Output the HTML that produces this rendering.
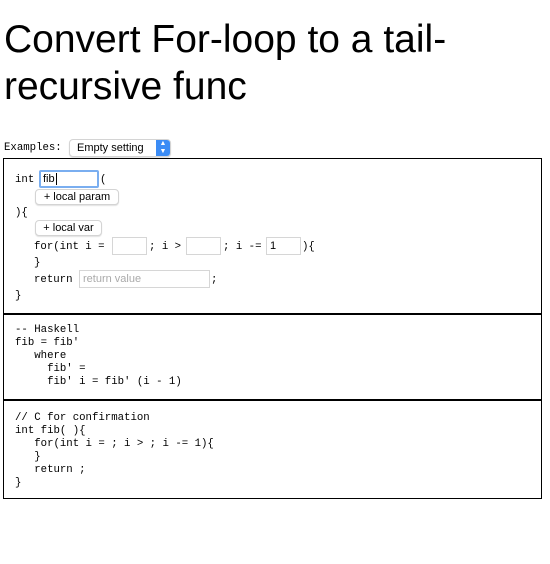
<!DOCTYPE html>
<html><head><meta charset="utf-8"><style>
html,body{margin:0;padding:0;background:#fff;width:550px;height:564px;overflow:hidden}
body{position:relative;font-family:"Liberation Sans",sans-serif;color:#000}
.a{position:absolute;white-space:pre}
.t{font-size:39px;line-height:39px;left:4px}
.m{font-family:"Liberation Mono",monospace;font-size:10.7px;line-height:13px}
.in{position:absolute;box-sizing:border-box;border:1px solid #d6d6d6;background:#fff;font-size:11px;padding-left:3px;line-height:16px}
.btn{position:absolute;box-sizing:border-box;border:1px solid #d4d4d4;border-radius:4px;background:#fff;font-size:11px;text-align:center;line-height:14px;box-shadow:0 1px 1px rgba(0,0,0,.12)}
.box{position:absolute;left:3px;width:539px;box-sizing:border-box;border:1px solid #000}
</style></head><body>
<div class="a t" style="top:20px">Convert For-loop to a tail-</div>
<div class="a t" style="top:67px">recursive func</div>

<div class="a m" style="left:4px;top:142px">Examples:</div>
<div class="btn" style="left:69px;top:139px;width:102px;height:18px;font-size:11px;line-height:16px;text-align:left;padding-left:7px">Empty setting<span style="position:absolute;right:0;top:0;width:14px;height:16px;background:#3b8cf5;border-radius:0 3px 3px 0;color:#fff;font-size:7px;line-height:8px;text-align:center">▲<br>▼</span></div>

<div class="box" style="top:158px;height:157px"></div>
<div class="box" style="top:313px;height:88px;border-top-width:2px"></div>
<div class="box" style="top:399px;height:100px;border-top-width:2px"></div>

<div class="a m" style="left:15px;top:174px">int</div>
<div class="in" style="left:39px;top:170px;width:60px;height:18px;border:2px solid #7aaef0;border-radius:2px;line-height:14px;padding-left:2px">fib<span style="border-left:1px solid #000;margin-left:1px"></span></div>
<div class="a m" style="left:100px;top:174px">(</div>
<div class="btn" style="left:35px;top:189px;width:84px;height:16px">+ local param</div>
<div class="a m" style="left:15px;top:207px">){</div>
<div class="btn" style="left:35px;top:220px;width:67px;height:16px">+ local var</div>
<div class="a m" style="left:34px;top:241px">for(int i =</div>
<div class="in" style="left:112px;top:237px;width:35px;height:18px"></div>
<div class="a m" style="left:149px;top:241px">; i &gt;</div>
<div class="in" style="left:186px;top:237px;width:35px;height:18px"></div>
<div class="a m" style="left:223px;top:241px">; i -=</div>
<div class="in" style="left:266px;top:237px;width:35px;height:18px">1</div>
<div class="a m" style="left:302px;top:241px">){</div>
<div class="a m" style="left:34px;top:257px">}</div>
<div class="a m" style="left:34px;top:274px">return</div>
<div class="in" style="left:79px;top:270px;width:131px;height:18px;color:#aaa">return value</div>
<div class="a m" style="left:211px;top:274px">;</div>
<div class="a m" style="left:15px;top:290px">}</div>

<div class="a m" style="left:15px;top:324px">-- Haskell
fib = fib'
   where
     fib' =
     fib' i = fib' (i - 1)</div>

<div class="a m" style="left:15px;top:412px">// C for confirmation
int fib( ){
   for(int i = ; i &gt; ; i -= 1){
   }
   return ;
}</div>
</body></html>
